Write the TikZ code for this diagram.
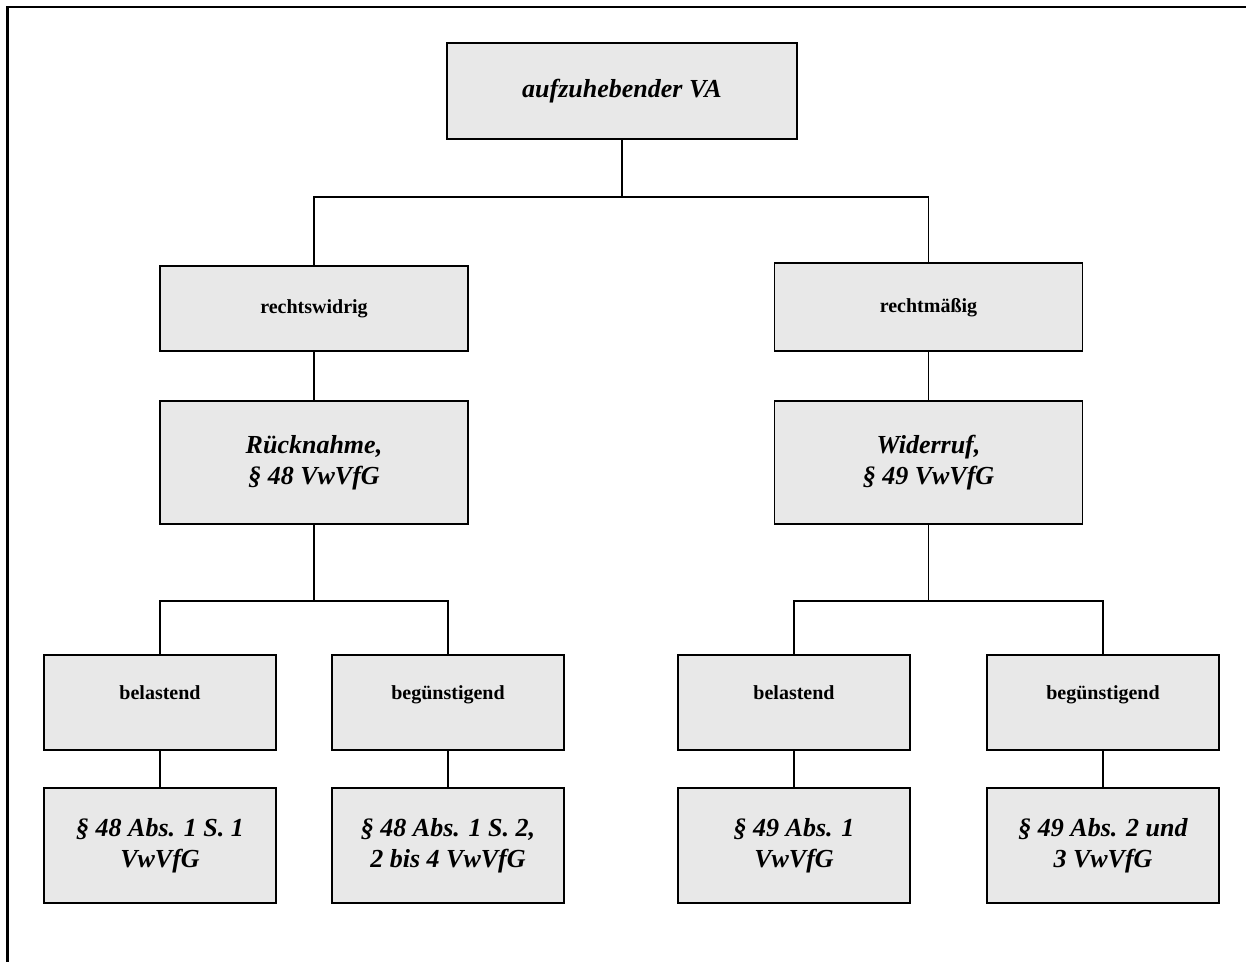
\documentclass[tikz,border=0pt]{standalone}
\usepackage{fontspec}
\setmainfont{Liberation Serif}
\begin{document}
\begin{tikzpicture}[x=1pt,y=-1pt,
  box/.style={draw=black, line width=1.6pt, fill=boxgray, align=center, inner sep=2pt},
  upl/.style={box, font=\fontsize{20}{24}\selectfont\bfseries, text height=15pt, text depth=5pt},
  upllow/.style={upl, text height=15pt, text depth=21pt},
  itl/.style={box, font=\fontsize{26}{31}\selectfont\bfseries\itshape},
  conn/.style={line width=1.6pt},
  frameline/.style={line width=2.6pt}]
\definecolor{boxgray}{HTML}{E8E8E8}
\useasboundingbox (0,0) rectangle (1246,961);
\draw[frameline] (1250,7) -- (7.5,7) -- (7.5,965);
% nodes
\node[itl, minimum width=350pt, minimum height=96pt] (top) at (622,91) {aufzuhebender VA};
\node[upl, minimum width=308pt, minimum height=85pt] (rw) at (314,308.5) {rechtswidrig};
\node[upl, minimum width=308pt, minimum height=88pt] (rm) at (928.5,307) {rechtmäßig};
\node[itl, minimum width=308pt, minimum height=123pt] (rn) at (314,462.5) {Rücknahme,\\ § 48 VwVfG};
\node[itl, minimum width=308pt, minimum height=123pt] (wr) at (928.5,462.5) {Widerruf,\\ § 49 VwVfG};
\node[upllow, minimum width=232pt, minimum height=95pt] (b1) at (160,702.5) {belastend};
\node[upllow, minimum width=232pt, minimum height=95pt] (g1) at (448,702.5) {begünstigend};
\node[upllow, minimum width=232pt, minimum height=95pt] (b2) at (794,702.5) {belastend};
\node[upllow, minimum width=232pt, minimum height=95pt] (g2) at (1103,702.5) {begünstigend};
\node[itl, minimum width=232pt, minimum height=115pt] (p1) at (160,845.5) {§ 48 Abs. 1 S. 1\\ VwVfG};
\node[itl, minimum width=232pt, minimum height=115pt] (p2) at (448,845.5) {§ 48 Abs. 1 S. 2,\\ 2 bis 4 VwVfG};
\node[itl, minimum width=232pt, minimum height=115pt] (p3) at (794,845.5) {§ 49 Abs. 1\\ VwVfG};
\node[itl, minimum width=232pt, minimum height=115pt] (p4) at (1103,845.5) {§ 49 Abs. 2 und\\ 3 VwVfG};
% junctions
\coordinate (j1) at (622,197);
\coordinate (j2) at (314,601);
\coordinate (j3) at (928.5,601);
% connectors
\draw[conn] (top.south) -- (j1);
\draw[conn] (j1) -| (rw.north);
\draw[conn] (j1) -| (rm.north);
\draw[conn] (rw.south) -- (rn.north);
\draw[conn] (rm.south) -- (wr.north);
\draw[conn] (rn.south) -- (j2);
\draw[conn] (j2) -| (b1.north);
\draw[conn] (j2) -| (g1.north);
\draw[conn] (wr.south) -- (j3);
\draw[conn] (j3) -| (b2.north);
\draw[conn] (j3) -| (g2.north);
\draw[conn] (b1.south) -- (p1.north);
\draw[conn] (g1.south) -- (p2.north);
\draw[conn] (b2.south) -- (p3.north);
\draw[conn] (g2.south) -- (p4.north);
\end{tikzpicture}
\end{document}
